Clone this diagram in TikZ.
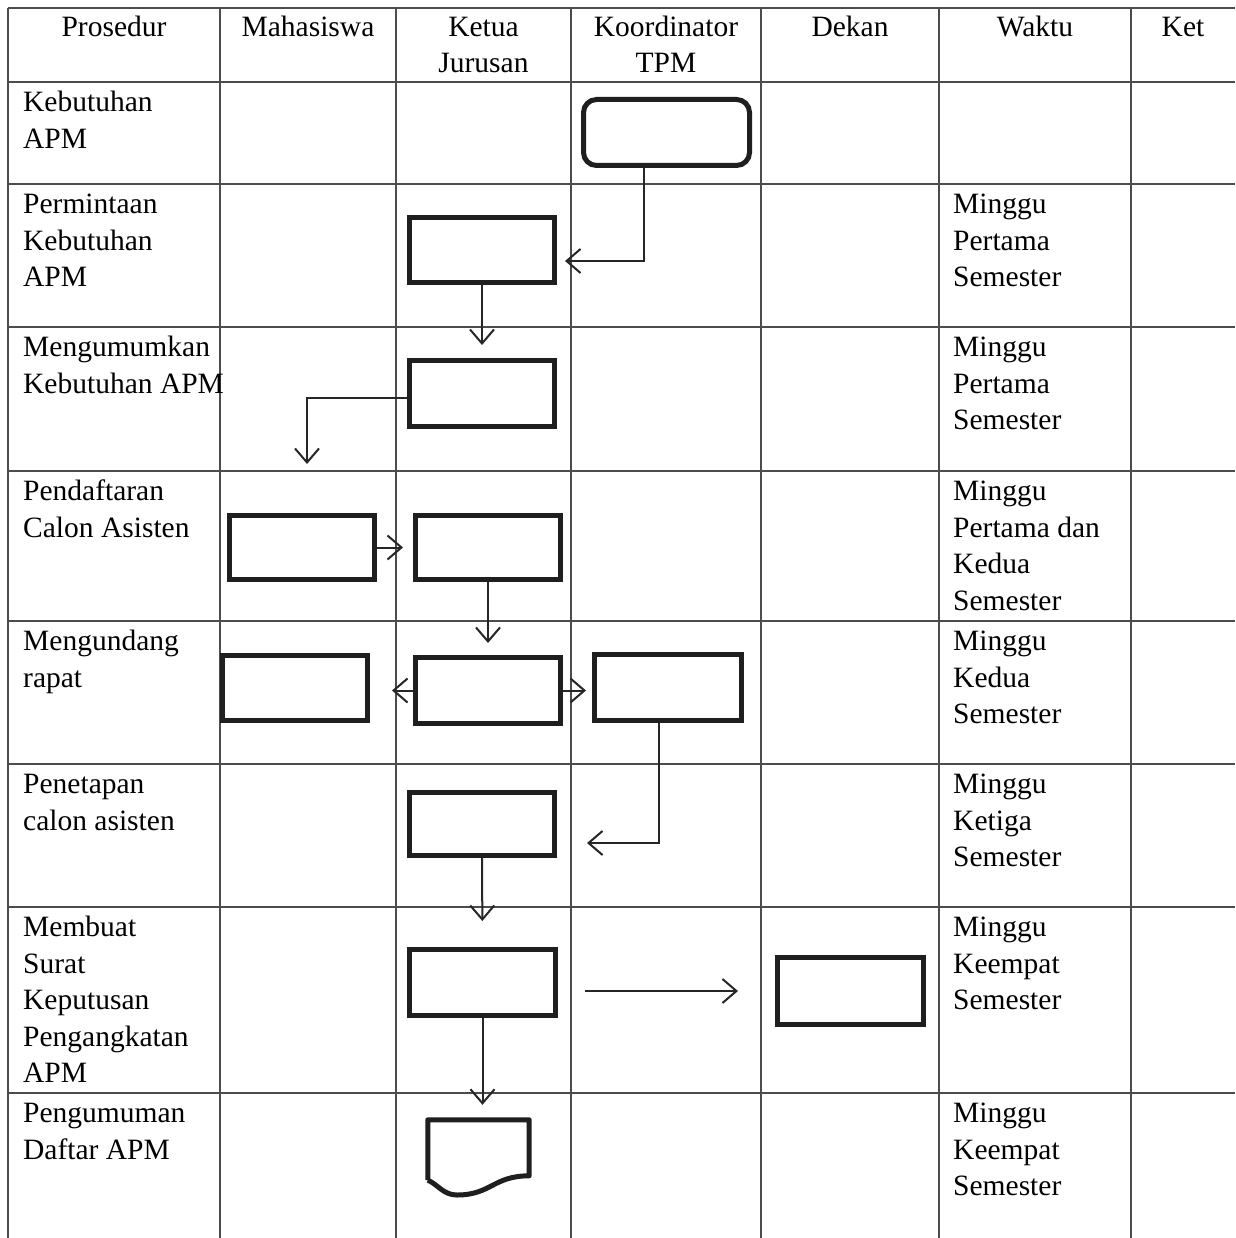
\documentclass[tikz,border=0pt]{standalone}
\usepackage{fontspec}
\setmainfont{Liberation Serif}
\usetikzlibrary{arrows.meta}
\newcommand\cellfont{\fontsize{29.5}{36.5}\selectfont}
\begin{document}
\begin{tikzpicture}[x=1pt,y=-1pt,
  gridline/.style={line width=1.4pt, draw=black!70},
  procbox/.style={draw=black!88, line width=5pt, inner sep=0pt, rectangle},
  arr/.style={draw=black!85, line width=2pt, -{Straight Barb[length=14pt,width=24pt]}},
  lcell/.style={inner sep=0pt, anchor=north west, align=left, font=\cellfont},
  hcell/.style={inner sep=0pt, anchor=north, align=center, font=\cellfont}]
\useasboundingbox[fill=white] (0,0) rectangle (1235,1238);
% grid
\foreach \xx in {8,220,396,571,761,939,1131} \draw[gridline] (\xx,8) -- (\xx,1238);
\foreach \yy in {8,82,184,327,471,621,764,907,1093} \draw[gridline] (8,\yy) -- (1235,\yy);
% headers (first baseline at 36)
\node[hcell] (hp) at (114,10.5) {\strut Prosedur};
\node[hcell] (hm) at (308,10.5) {\strut Mahasiswa};
\node[hcell] (hk) at (483.5,10.5) {\strut Ketua\\Jurusan};
\node[hcell] (ht) at (666,10.5) {\strut Koordinator\\TPM};
\node[hcell] (hd) at (850,10.5) {\strut Dekan};
\node[hcell] (hw) at (1035,10.5) {\strut Waktu};
\node[hcell] (hx) at (1183,10.5) {\strut Ket};
% procedure column
\node[lcell] (p1) at (23,86) {\strut Kebutuhan\\APM};
\node[lcell] (p2) at (23,188) {\strut Permintaan\\Kebutuhan\\APM};
\node[lcell] (p3) at (23,331) {\strut Mengumumkan\\Kebutuhan APM};
\node[lcell] (p4) at (23,475) {\strut Pendaftaran\\Calon Asisten};
\node[lcell] (p5) at (23,625) {\strut Mengundang\\rapat};
\node[lcell] (p6) at (23,768) {\strut Penetapan\\calon asisten};
\node[lcell] (p7) at (23,911) {\strut Membuat\\Surat\\Keputusan\\Pengangkatan\\APM};
\node[lcell] (p8) at (23,1097) {\strut Pengumuman\\Daftar APM};
% waktu column
\node[lcell] (w2) at (953,188) {\strut Minggu\\Pertama\\Semester};
\node[lcell] (w3) at (953,331) {\strut Minggu\\Pertama\\Semester};
\node[lcell] (w4) at (953,475) {\strut Minggu\\Pertama dan\\Kedua\\Semester};
\node[lcell] (w5) at (953,625) {\strut Minggu\\Kedua\\Semester};
\node[lcell] (w6) at (953,768) {\strut Minggu\\Ketiga\\Semester};
\node[lcell] (w7) at (953,911) {\strut Minggu\\Keempat\\Semester};
\node[lcell] (w8) at (953,1097) {\strut Minggu\\Keempat\\Semester};
% process boxes
\node[procbox, rounded corners=13pt, minimum width=166pt, minimum height=66pt] (t1) at (666.5,132.5) {};
\node[procbox, minimum width=145pt, minimum height=65pt] (k2) at (482,250) {};
\node[procbox, minimum width=145pt, minimum height=66pt] (k3) at (482,393.5) {};
\node[procbox, minimum width=145pt, minimum height=64pt] (m4) at (302,547.5) {};
\node[procbox, minimum width=145pt, minimum height=64pt] (k4) at (488,547.5) {};
\node[procbox, minimum width=145pt, minimum height=65pt] (m5) at (295,688) {};
\node[procbox, minimum width=145pt, minimum height=66pt] (k5) at (488,690.5) {};
\node[procbox, minimum width=147pt, minimum height=66pt] (t5) at (668,687.5) {};
\node[procbox, minimum width=145pt, minimum height=63pt] (k6) at (482,824) {};
\node[procbox, minimum width=146pt, minimum height=66pt] (k7) at (482.5,982.5) {};
\node[procbox, minimum width=146pt, minimum height=67pt] (d7) at (850.5,991) {};
% document shape
\node[inner sep=0pt, minimum width=101pt, minimum height=60pt] (doc) at (478.5,1150) {};
\draw[draw=black!88, line width=5pt, line join=round]
  (doc.south west) -- (doc.north west) -- (doc.north east) -- ++(0,56)
  .. controls +(-36,0) and +(34,0) .. (457,1195)
  .. controls +(-14,0) and +(10,4) .. (doc.south west);
% connectors
\coordinate (a3) at (307,464);
\draw[arr, shorten >=8pt] (t1.south -| 644,0) |- ([yshift=-11pt]k2.east);
\draw[arr, shorten >=13pt] (k2.south) -- (k3.north);
\draw[arr] ([yshift=-4.5pt]k3.west) -| (a3);
\draw[arr, shorten >=10pt] (m4.east) -- (k4.west);
\draw[arr, shorten >=12pt] (k4.south) -- (k4.south |- k5.north);
\draw[arr, shorten >=22pt] (k5.west) -- (k5.west -| m5.east);
\draw[arr, shorten >=6pt] (k5.east) -- (k5.east -| t5.west);
\draw[arr, shorten >=30pt] (t5.south -| 659,0) |- ([yshift=-19pt]k6.east);
\draw[arr, shorten >=26pt] (k6.south) -- (k7.north);
\draw[arr, shorten <=27pt, shorten >=37pt] (k7.east |- d7.west) -- (d7.west);
\draw[arr, shorten >=15pt] (k7.south) -- (k7.south |- doc.north);
\end{tikzpicture}
\end{document}
